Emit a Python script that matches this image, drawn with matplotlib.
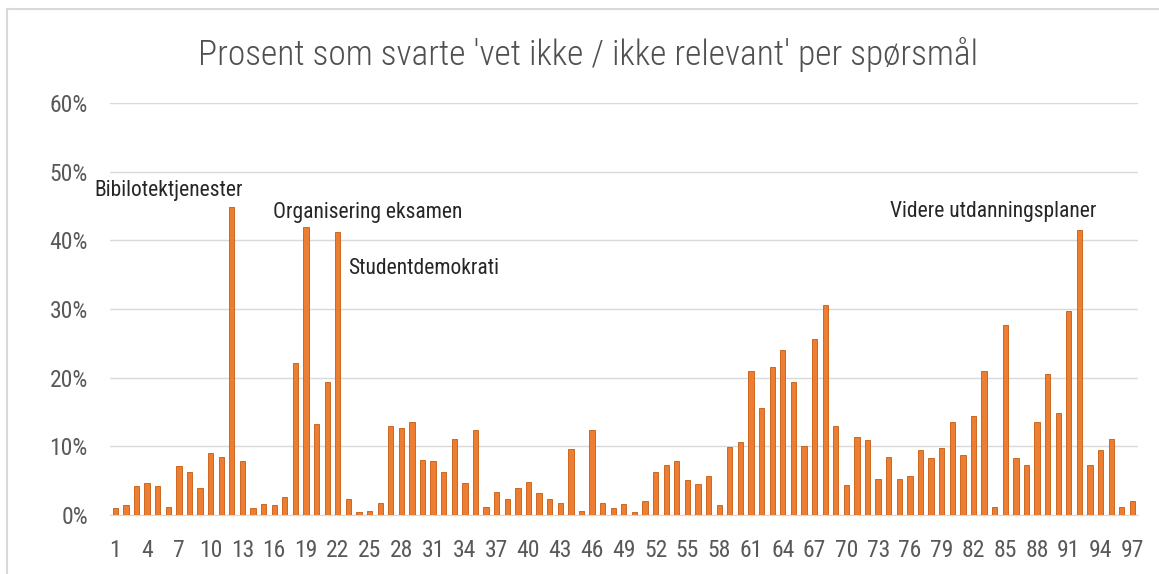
import matplotlib
matplotlib.use("Agg")
import matplotlib.pyplot as plt
from matplotlib import font_manager
from matplotlib.lines import Line2D

# ---- data ----
questions = list(range(1, 98))
percent = [
    1.0, 1.4, 4.2, 4.6, 4.2, 1.2, 7.1, 6.2, 4.0, 9.1,
    8.5, 44.8, 7.9, 1.0, 1.6, 1.4, 2.6, 22.1, 42.0, 13.3,
    19.3, 41.2, 2.4, 0.4, 0.6, 1.7, 12.9, 12.7, 13.6, 8.0,
    7.8, 6.2, 11.0, 4.6, 12.4, 1.1, 3.4, 2.3, 4.0, 4.8,
    3.2, 2.3, 1.8, 9.6, 0.6, 12.4, 1.8, 1.0, 1.6, 0.4,
    2.1, 6.3, 7.3, 7.9, 5.1, 4.5, 5.7, 1.4, 9.9, 10.7,
    20.9, 15.6, 21.6, 24.1, 19.4, 10.0, 25.6, 30.6, 13.0, 4.3,
    11.3, 10.9, 5.3, 8.5, 5.3, 5.7, 9.5, 8.3, 9.7, 13.5,
    8.7, 14.4, 21.0, 1.2, 27.7, 8.3, 7.3, 13.5, 20.6, 14.8,
    29.7, 41.5, 7.3, 9.5, 11.1, 1.2, 2.1,
]
tick_questions = list(range(1, 98, 3))
y_ticks = [0, 10, 20, 30, 40, 50, 60]
title = "Prosent som svarte 'vet ikke / ikke relevant' per spørsmål"
annotations = [
    (12, "Bibilotektjenester", (-63, 11)),
    (19, "Organisering eksamen", (62, 9)),
    (22, "Studentdemokrati", (86, -42)),
    (92, "Videre utdanningsplaner", (-86, 13)),
]

# ---- font choice: a condensed family with a regular (non-bold) face ----
def _w(f):
    w = f.weight
    if isinstance(w, str):
        w = {"normal": 400, "regular": 400, "light": 300, "bold": 700}.get(w, 400)
    return w

faces = font_manager.fontManager.ttflist
regular = {f.name for f in faces if _w(f) <= 400 and f.style == "normal"}
font = "Open Sans"
for cand in ["Roboto Condensed", "Liberation Sans Narrow", "DejaVu Sans Condensed",
             "Open Sans Condensed", "Noto Sans Condensed"]:
    if cand in regular:
        font = cand
        break
plt.rcParams["font.family"] = [font, "DejaVu Sans"]
plt.rcParams["font.weight"] = "normal"
light_ok = any(f.name == font and _w(f) <= 300 for f in faces)

W, H = 1159, 574
fig = plt.figure(figsize=(W / 100, H / 100), dpi=100)
ax = fig.add_axes([110 / W, (H - 515) / H, 1027.7 / W, (515 - 103) / H])

ax.bar(questions, percent, width=0.5, color="#ED7D31", edgecolor="#C55A11",
       linewidth=0.6, zorder=3)

ax.set_xlim(0.5, 97.5)
ax.set_ylim(0, 60)
ax.set_yticks(y_ticks)
ax.set_yticklabels([f"{v}%" for v in y_ticks], fontweight="normal")
ax.set_xticks(tick_questions)
ax.set_xticklabels([str(q) for q in tick_questions], fontweight="normal")
ax.yaxis.grid(True, color="#D9D9D9", linewidth=1.0, zorder=0)
ax.set_axisbelow(True)
for s in ["top", "right", "left"]:
    ax.spines[s].set_visible(False)
ax.spines["bottom"].set_color("#D9D9D9")
ax.tick_params(axis="both", length=0, colors="#595959", labelsize=17)
ax.tick_params(axis="y", pad=16)
ax.tick_params(axis="x", pad=17)

fig.text(588.5 / W, (H - 65) / H, title, ha="center", va="baseline",
         fontsize=25.5, color="#505050",
         fontweight="light" if light_ok else "normal")

for q, label, off in annotations:
    ax.annotate(label, xy=(q, percent[q - 1]), xytext=off,
                textcoords="offset pixels", ha="center", va="baseline",
                fontsize=15.5, color="#262626", fontweight="normal")

# chart-area border (left and top)
fig.add_artist(Line2D([7 / W, 7 / W], [0, (H - 9) / H], color="#D9D9D9", lw=1.5))
fig.add_artist(Line2D([7 / W, 1], [(H - 9) / H, (H - 9) / H], color="#D9D9D9", lw=1.5))

fig.savefig("out.png", dpi=100)
